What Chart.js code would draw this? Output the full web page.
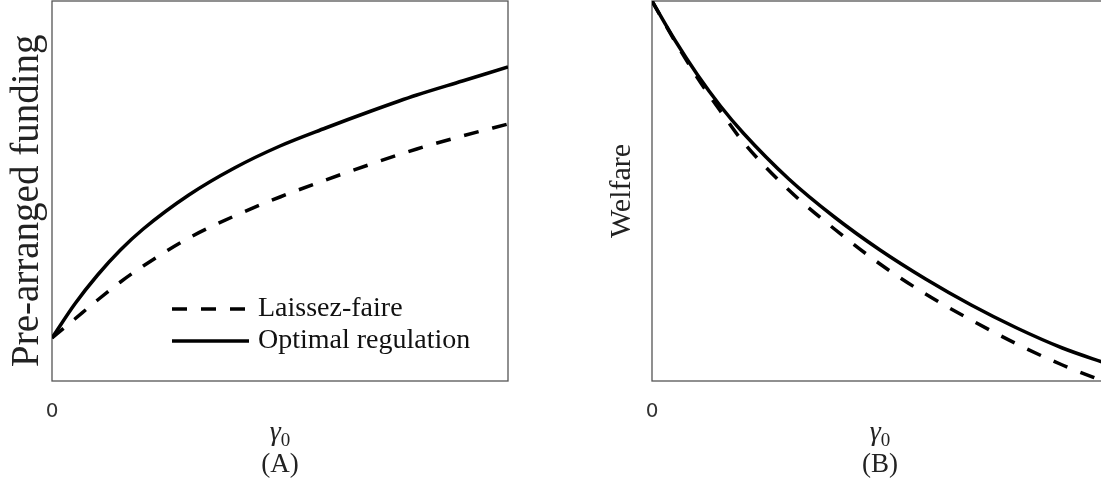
<!DOCTYPE html>
<html>
<head>
<meta charset="utf-8">
<script src="https://cdn.jsdelivr.net/npm/chart.js@4.4.0/dist/chart.umd.min.js"></script>
<style>
  html, body { margin: 0; padding: 0; background: #fff; overflow: hidden; width: 1101px; height: 488px; }
  canvas { position: absolute; top: 0; }
  #chartA { left: 0; }
  #chartB { left: 600px; }
</style>
</head>
<body>
<canvas id="chartA" width="540" height="488"></canvas>
<canvas id="chartB" width="540" height="488"></canvas>
<script>
// gamma_0 grid (share of the axis range) and curves
const gamma = [0, 0.05, 0.1, 0.15, 0.2, 0.3, 0.4, 0.5, 0.6, 0.7, 0.8, 0.9, 1.0];
const fundingLaissez = [43, 62, 81, 99, 115, 143, 165, 184, 201, 217, 232, 245, 257];
const fundingOptimal = [43, 77, 106, 131, 152, 186, 213, 235, 253, 270, 286, 300, 314];
const welfareLaissez = [380, 340, 303, 270, 239, 191, 152, 117, 87, 61, 37, 16, -2];
const welfareOptimal = [380, 341, 306, 275, 248, 202, 164, 131, 102, 76, 53, 33, 17];
const seriesNames = ["Laissez-faire", "Optimal regulation"];
const xTicks = [0];

const serif = '"Liberation Serif", "DejaVu Serif", serif';

const frame = {
    id: "frame",
    beforeDatasetsDraw(chart) {
        const a = chart.chartArea;
        const ctx = chart.ctx;
        ctx.save();
        ctx.strokeStyle = "#555";
        ctx.lineWidth = 1.3;
        ctx.strokeRect(a.left, a.top, a.right - a.left, a.bottom - a.top);
        ctx.restore();
    },
    afterDraw(chart, args, opts) {
        const a = chart.chartArea;
        const ctx = chart.ctx;
        ctx.save();
        // gamma_0 label above the panel letter
        const cx = (a.left + a.right) / 2;
        ctx.fillStyle = "#222";
        ctx.textBaseline = "alphabetic";
        ctx.font = "italic 28px " + serif;
        const gw = ctx.measureText("\u03b3").width;
        ctx.font = "19px " + serif;
        const zw = ctx.measureText("0").width;
        const x0 = cx - (gw + zw) / 2;
        ctx.font = "italic 28px " + serif;
        ctx.fillText("\u03b3", x0, a.bottom + 59);
        ctx.font = "19px " + serif;
        ctx.fillText("0", x0 + gw, a.bottom + 65);

        if (opts.legend) {
            chart.data.datasets.forEach((ds, i) => {
                const y = a.bottom - 72 + i * 32;
                const lx = a.left + 120;
                ctx.beginPath();
                ctx.setLineDash(ds.borderDash || []);
                ctx.lineWidth = ds.borderWidth;
                ctx.strokeStyle = ds.borderColor;
                ctx.moveTo(lx, y);
                ctx.lineTo(lx + 77, y);
                ctx.stroke();
                ctx.setLineDash([]);
                ctx.fillStyle = "#111";
                ctx.font = "28px " + serif;
                ctx.textBaseline = "middle";
                ctx.fillText(ds.label, lx + 86, y);
            });
        }
        ctx.restore();
    }
};

function makeChart(el, yTitle, ySize, panel, laissez, optimal, showLegend) {
    return new Chart(document.getElementById(el), {
        type: "line",
        data: {
            datasets: [
                {
                    label: seriesNames[0],
                    data: gamma.map((g, i) => ({ x: g, y: laissez[i] })),
                    borderColor: "#000",
                    borderWidth: 3.5,
                    borderDash: [15, 14],
                    pointRadius: 0,
                    cubicInterpolationMode: "monotone",
                },
                {
                    label: seriesNames[1],
                    data: gamma.map((g, i) => ({ x: g, y: optimal[i] })),
                    borderColor: "#000",
                    borderWidth: 3.5,
                    pointRadius: 0,
                    cubicInterpolationMode: "monotone",
                },
            ],
        },
        options: {
            responsive: false,
            animation: false,
            layout: { padding: { top: 1, right: 32, left: 0, bottom: 0 } },
            scales: {
                x: {
                    type: "linear",
                    min: 0,
                    max: 1,
                    grid: { display: false, drawTicks: false },
                    border: { display: false },
                    afterBuildTicks: (s) => { s.ticks = xTicks.map(v => ({ value: v })); },
                    afterFit: (s) => { s.height = 107; },
                    ticks: {
                        color: "#333",
                        padding: 19,
                        maxRotation: 0,
                        font: { family: "DejaVu Sans", size: 20 },
                        callback: (v) => String(v),
                    },
                    title: {
                        display: true,
                        text: "(" + panel + ")",
                        color: "#222",
                        font: { family: serif, size: 27 },
                        padding: { top: 0, bottom: 7 },
                    },
                },
                y: {
                    min: 0,
                    max: 380,
                    grid: { display: false, drawTicks: false },
                    border: { display: false },
                    ticks: { display: false },
                    afterFit: (s) => { s.width = 52; },
                    title: {
                        display: true,
                        text: yTitle,
                        color: "#222",
                        font: { family: serif, size: ySize },
                        padding: { top: 4, bottom: 4 },
                    },
                },
            },
            plugins: {
                legend: { display: false },
                tooltip: { enabled: false },
                frame: { legend: showLegend },
            },
        },
        plugins: [frame],
    });
}

makeChart("chartA", "Pre-arranged funding  ", 39, "A", fundingLaissez, fundingOptimal, true);
makeChart("chartB", "Welfare", 30, "B", welfareLaissez, welfareOptimal, false);
</script>
</body>
</html>
